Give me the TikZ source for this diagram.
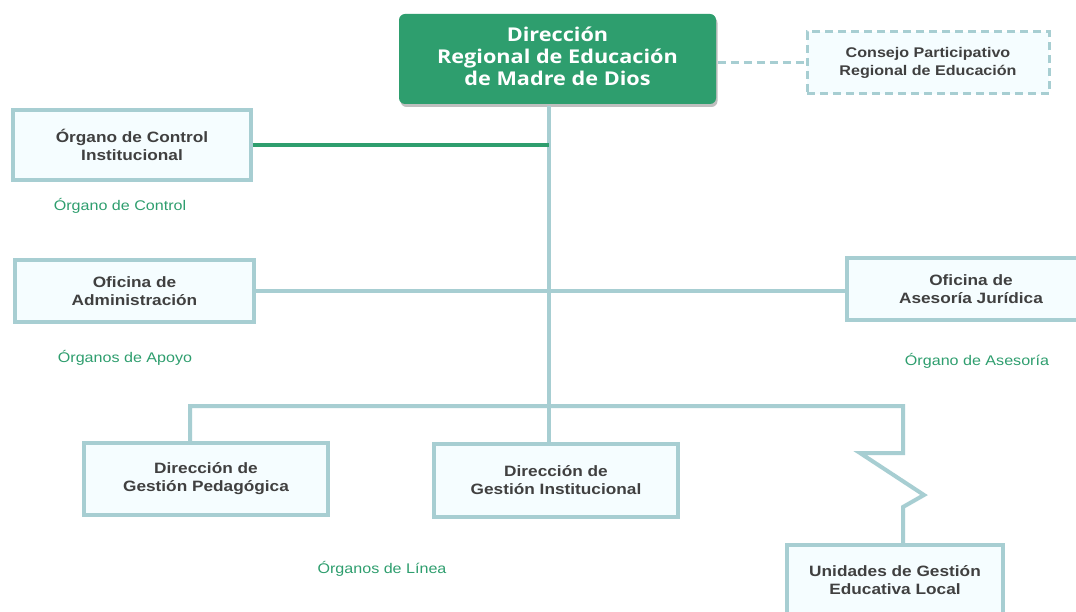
\documentclass[tikz,border=0pt]{standalone}
\usepackage{fontspec}
\setmainfont[FakeStretch=1.15]{Liberation Sans}
\newfontfamily\titlefont[FakeStretch=1.14]{Open Sans}
\usetikzlibrary{shadows}
\definecolor{dgreen}{HTML}{2E9E6E}
\definecolor{lineblue}{HTML}{A7CED2}
\definecolor{boxfill}{HTML}{F5FDFF}
\definecolor{txtgray}{HTML}{404040}
\tikzset{
  orgbox/.style={draw=lineblue, line width=3.5pt, fill=boxfill, align=center,
    text=txtgray, font=\fontsize{15}{18}\selectfont\bfseries, inner sep=0pt},
  conn/.style={draw=lineblue, line width=4pt},
  grlabel/.style={text=dgreen, font=\fontsize{14}{17}\selectfont, inner sep=0pt},
}
\begin{document}
\begin{tikzpicture}[x=1pt,y=-1pt]
\useasboundingbox (0,0) rectangle (1076,612);
\fill[white] (0,0) rectangle (1076,612);
\coordinate (spine) at (549,0);
% nodes
\node[orgbox, draw=none, fill=dgreen, rounded corners=6pt,
  minimum width=317pt, minimum height=90pt,
  drop shadow={shadow xshift=1.5pt, shadow yshift=-3pt, fill=black, opacity=0.25},
  label={[yshift=3pt, text=white, align=center, inner sep=0pt,
    font=\titlefont\fontsize{19}{22}\selectfont\bfseries]center:Dirección\\Regional de Educación\\de Madre de Dios}]
  (top) at (557.5,59) {};
\node[orgbox, dashed, dash pattern=on 8pt off 5pt, line width=3pt, minimum width=242pt, minimum height=62pt,
  font=\fontsize{14}{18}\selectfont\bfseries] (cons) at (928,63) {Consejo Participativo\\Regional de Educación};
\node[orgbox, minimum width=238pt, minimum height=70pt] (oci) at (132,145) {Órgano de Control\\Institucional};
\node[orgbox, minimum width=239pt, minimum height=62pt] (adm) at (134.5,291) {Oficina de\\Administración};
\node[orgbox, minimum width=248pt, minimum height=62pt] (ase) at (971,289) {Oficina de\\Asesoría Jurídica};
\node[orgbox, minimum width=244pt, minimum height=72pt] (dgp) at (206,479) {Dirección de\\Gestión Pedagógica};
\node[orgbox, minimum width=244pt, minimum height=73pt] (dgi) at (556,480.5) {Dirección de\\Gestión Institucional};
\node[orgbox, minimum width=216pt, minimum height=70pt] (ugel) at (895,580) {Unidades de Gestión\\Educativa Local};
% labels
\node[grlabel] (l1) at (120,206) {Órgano de Control};
\node[grlabel] (l2) at (125,358) {Órganos de Apoyo};
\node[grlabel] (l3) at (977,361) {Órgano de Asesoría};
\node[grlabel] (l4) at (382,569) {Órganos de Línea};
% connectors
\draw[lineblue, line width=3pt, dash pattern=on 8pt off 5pt] (top.east |- cons.west) -- (cons.west);
\coordinate (bl) at (190,406);
\coordinate (br) at (903,406);
\draw[conn] (top.south -| spine) -- (dgi.north -| spine);
\draw[dgreen, line width=4pt] (oci.east) -- (oci.east -| spine);
\draw[conn] (adm.east) -- (ase.west |- adm.east);
\draw[conn, line join=miter] (dgp.north -| bl) -- (bl) -- (br) -- (903,453) -- (860,453) -- (924,495) -- (903,507) -- (ugel.north -| br);
\end{tikzpicture}
\end{document}
